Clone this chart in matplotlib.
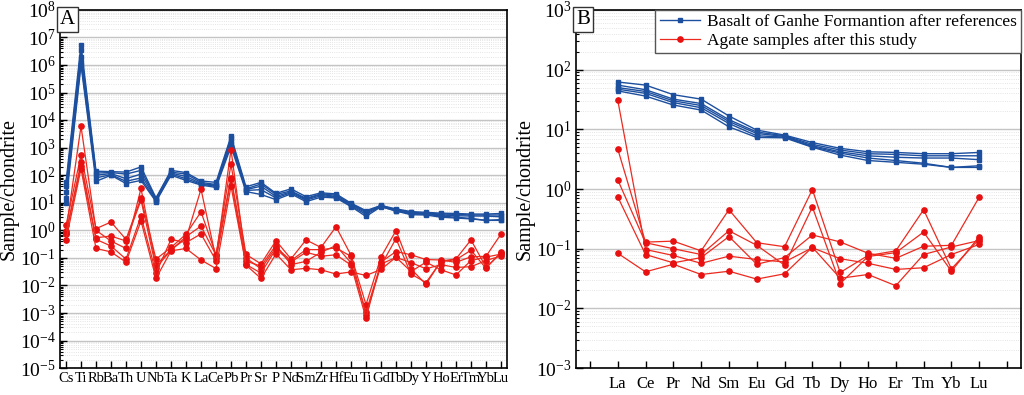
import numpy as np
import matplotlib.pyplot as plt
from matplotlib.ticker import LogLocator, NullFormatter

#-------------style---------------#
plt.rcParams['font.family'] = ['Liberation Serif', 'DejaVu Serif']
plt.rcParams['mathtext.fontset'] = 'stix'

BLUE = '#1d4f9f'
RED = '#ec2a1f'

#-------------data---------------#
spider_elems = ['Cs', 'Ti', 'Rb', 'Ba', 'Th', 'U', 'Nb', 'Ta', 'K', 'La', 'Ce', 'Pb', 'Pr', 'Sr', 'P',
                'Nd', 'Sm', 'Zr', 'Hf', 'Eu', 'Ti', 'Gd', 'Tb', 'Dy', 'Y', 'Ho', 'Er', 'Tm', 'Yb', 'Lu']
ree_elems = ['La', 'Ce', 'Pr', 'Nd', 'Sm', 'Eu', 'Gd', 'Tb', 'Dy', 'Ho', 'Er', 'Tm', 'Yb', 'Lu']

# basalt of Ganhe Formation (references), spider diagram
basalt_spider = [
    [55, 5.5e6, 140, 135, 130, 200, 15, 150, 125, 62, 55, 2600, 38, 55, 22, 32, 16.7, 23, 21, 9.7, 5.2, 8.0, 6.0, 4.8, 4.5, 4.2, 4.1, 3.9, 3.9, 4.1],
    [40, 3.5e6, 120, 125, 110, 150, 14, 130, 110, 55, 46, 2200, 32, 48, 20, 27, 14.5, 21, 19, 9.0, 4.8, 7.8, 5.6, 4.5, 4.2, 3.9, 3.8, 3.6, 3.6, 3.6],
    [25, 2.0e6, 100, 115, 75, 110, 13, 120, 90, 50, 43, 1800, 30, 40, 17, 25, 13.5, 20, 17, 8.5, 4.3, 7.6, 5.3, 4.2, 4.0, 3.6, 3.4, 3.3, 3.3, 3.1],
    [15, 1.3e6, 80, 105, 60, 80, 12, 110, 75, 47, 40, 1400, 28, 30, 15, 23, 12.5, 18, 16, 7.8, 3.8, 7.4, 5.1, 4.0, 3.8, 3.3, 3.0, 2.7, 2.3, 2.45],
    [10, 1.0e6, 60, 100, 50, 65, 11, 100, 65, 44, 36, 1100, 25.5, 20, 13, 21, 11, 16, 15, 7.3, 3.2, 7.2, 5.0, 3.7, 3.6, 3.0, 2.8, 2.6, 2.3, 2.3],
]

# agate samples (this study), spider diagram
agate_spider = [
    [0.95, 6000, 1.0, 0.41, 0.22, 33, 0.054, 0.2, 0.5, 31, 0.097, 850, 0.077, 0.05, 0.29, 0.057, 0.075, 0.16, 0.28, 0.066, 0.0011, 0.06, 0.104, 0.068, 0.04, 0.057, 0.045, 0.048, 0.08, 0.118],
    [1.5, 550, 1.15, 2.0, 0.47, 15, 0.09, 0.24, 0.72, 4.7, 0.129, 250, 0.134, 0.061, 0.42, 0.092, 0.45, 0.24, 1.35, 0.126, 0.002, 0.108, 0.98, 0.04, 0.011, 0.077, 0.092, 0.45, 0.046, 0.145],
    [0.8, 290, 0.54, 0.62, 0.41, 12.5, 0.044, 0.19, 0.59, 1.43, 0.126, 80, 0.1, 0.04, 0.24, 0.08, 0.2, 0.2, 0.23, 0.114, 0.00086, 0.053, 0.5, 0.026, 0.0128, 0.074, 0.086, 0.19, 0.042, 0.16],
    [0.75, 220, 0.47, 0.27, 0.09, 3.3, 0.028, 0.47, 0.36, 0.74, 0.08, 70, 0.058, 0.028, 0.21, 0.071, 0.16, 0.115, 0.13, 0.055, 0.00065, 0.071, 0.17, 0.13, 0.087, 0.084, 0.069, 0.11, 0.114, 0.73],
    [0.45, 170, 0.22, 0.165, 0.07, 2.2, 0.018, 0.18, 0.22, 0.084, 0.041, 40, 0.055, 0.018, 0.14, 0.037, 0.042, 0.037, 0.026, 0.031, 0.023, 0.038, 0.106, 0.032, 0.07, 0.037, 0.024, 0.08, 0.107, 0.137],
]

# REE patterns
basalt_ree = [
    [62, 55, 38, 32, 16.7, 9.7, 8.0, 6.0, 4.8, 4.2, 4.1, 3.9, 3.9, 4.1],
    [55, 46, 32, 27, 14.5, 9.0, 7.8, 5.6, 4.5, 3.9, 3.8, 3.6, 3.6, 3.6],
    [50, 43, 30, 25, 13.5, 8.5, 7.6, 5.3, 4.2, 3.6, 3.4, 3.3, 3.3, 3.1],
    [47, 40, 28, 23, 12.5, 7.8, 7.4, 5.1, 4.0, 3.3, 3.0, 2.7, 2.3, 2.45],
    [44, 36, 25.5, 21, 11, 7.3, 7.2, 5.0, 3.7, 3.0, 2.8, 2.6, 2.3, 2.3],
]
agate_ree = [
    [31, 0.097, 0.077, 0.057, 0.075, 0.066, 0.06, 0.104, 0.068, 0.057, 0.045, 0.048, 0.08, 0.118],
    [4.7, 0.129, 0.134, 0.092, 0.45, 0.126, 0.108, 0.98, 0.04, 0.077, 0.092, 0.45, 0.046, 0.145],
    [1.43, 0.126, 0.1, 0.08, 0.2, 0.114, 0.053, 0.5, 0.026, 0.074, 0.086, 0.19, 0.042, 0.16],
    [0.74, 0.08, 0.058, 0.071, 0.16, 0.055, 0.071, 0.17, 0.13, 0.084, 0.069, 0.11, 0.114, 0.73],
    [0.084, 0.041, 0.055, 0.037, 0.042, 0.031, 0.038, 0.106, 0.032, 0.037, 0.024, 0.08, 0.107, 0.137],
]


def style_axis(ax, ymin, ymax, letter):
    ax.set_yscale('log')
    ax.set_ylim(ymin, ymax)
    ax.yaxis.set_major_locator(LogLocator(base=10, numticks=30))
    ax.yaxis.set_minor_locator(LogLocator(base=10, subs=np.arange(2, 10), numticks=30))
    ax.yaxis.set_minor_formatter(NullFormatter())
    ax.grid(True, which='major', axis='y', color='#c4c4c4', lw=1.0)
    ax.grid(True, which='minor', axis='y', color='#dcdcdc', lw=0.6, ls=':')
    ax.set_axisbelow(True)
    ax.tick_params(axis='both', which='both', direction='in', top=False, right=False)
    ax.tick_params(axis='x', which='major', length=5, width=1, labelsize=10.5, pad=3)
    ax.tick_params(axis='y', which='major', length=5, width=1, labelsize=14, pad=3)
    ax.tick_params(axis='y', which='minor', length=2.5, width=0.8)
    for s in ax.spines.values():
        s.set_linewidth(1.2)
    ax.set_ylabel('Sample/chondrite', fontsize=14.5, labelpad=1)
    ax.text(0.0, 1.0, letter, transform=ax.transAxes, ha='left', va='top', fontsize=15,
            bbox=dict(boxstyle='square,pad=0.15', facecolor='white', edgecolor='#333333', lw=1))


fig = plt.figure(figsize=(10.24, 3.95), dpi=100)

#-------------panel A---------------#
axA = fig.add_axes([0.0586, 0.068, 0.4365, 0.907])
X = np.arange(len(spider_elems))
for row in basalt_spider:
    axA.plot(X, row, '-s', color=BLUE, lw=1.0, ms=3.5)
for row in agate_spider:
    axA.plot(X, row, '-o', color=RED, lw=0.9, ms=3.8, mfc='#e81010', mec='#e81010')
axA.set_xlim(-0.4, len(spider_elems) - 0.6)
axA.set_xticks(X)
axA.set_xticklabels(spider_elems)
style_axis(axA, 1e-5, 1e8, 'A')

#-------------panel B---------------#
axB = fig.add_axes([0.5625, 0.068, 0.4345, 0.907])
XB = np.arange(1, len(ree_elems) + 1)
for i, row in enumerate(basalt_ree):
    axB.plot(XB, row, '-s', color=BLUE, lw=1.0, ms=3.5,
             label='Basalt of Ganhe Formantion after references' if i == 0 else None)
for i, row in enumerate(agate_ree):
    axB.plot(XB, row, '-o', color=RED, lw=0.9, ms=3.8, mfc='#e81010', mec='#e81010',
             label='Agate samples after this study' if i == 0 else None)
axB.set_xlim(-0.5, len(ree_elems) + 1.5)
axB.set_xticks(np.arange(0, len(ree_elems) + 2))
axB.set_xticklabels([''] + ree_elems + [''])
style_axis(axB, 1e-3, 1e3, 'B')
axB.tick_params(axis='x', labelsize=12, pad=6)
leg = axB.legend(loc='upper right', fontsize=12.5, fancybox=False, framealpha=1,
                 edgecolor='#555555', borderaxespad=0.0, handlelength=2.3,
                 handletextpad=0.4, labelspacing=0.15, borderpad=0.25)
leg.get_frame().set_linewidth(1.0)

plt.savefig('out.png', dpi=100)
